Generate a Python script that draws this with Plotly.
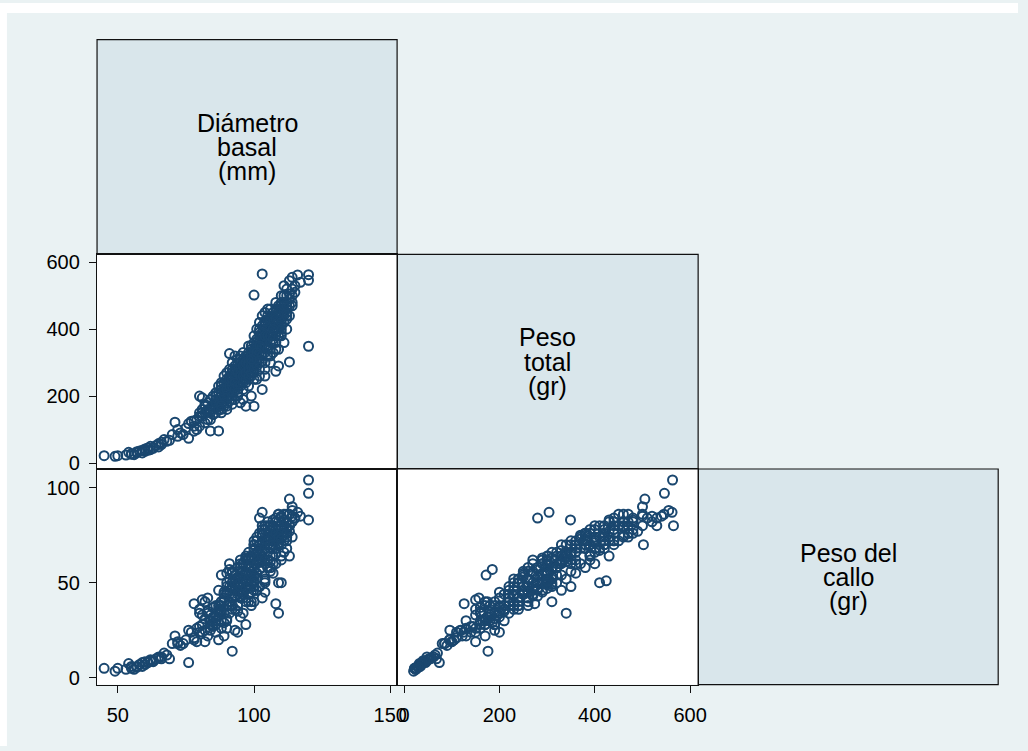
import plotly.graph_objects as go

diametro = [
    45, 49, 50, 54, 55, 56, 57, 58, 59, 60,
    61, 62, 62, 63, 64, 65, 65, 66, 67, 69,
    70, 71, 72, 72, 73, 75, 76, 76, 77, 78,
    79, 79, 80, 80, 81, 81, 82, 82, 83, 83,
    84, 84, 85, 85, 85, 86, 86, 87, 87, 87,
    88, 88, 88, 89, 89, 89, 90, 90, 90, 90,
    90, 91, 91, 91, 91, 91, 92, 92, 92, 92,
    92, 93, 93, 93, 93, 94, 94, 94, 94, 94,
    95, 95, 95, 95, 95, 95, 96, 96, 96, 96,
    96, 97, 97, 97, 97, 97, 98, 98, 98, 98,
    98, 99, 99, 99, 99, 99, 100, 100, 100, 100,
    100, 100, 100, 101, 101, 101, 101, 101, 102, 102,
    102, 102, 102, 103, 103, 103, 103, 103, 103, 104,
    104, 104, 104, 104, 105, 105, 105, 105, 105, 106,
    106, 106, 106, 107, 107, 107, 107, 108, 108, 108,
    108, 108, 109, 109, 109, 109, 109, 110, 110, 110,
    110, 110, 111, 111, 111, 111, 112, 112, 112, 112,
    113, 113, 113, 113, 114, 114, 114, 115, 116, 117,
    120, 120, 120,
    86, 87, 88, 89, 89, 90, 90, 91, 91, 92,
    92, 93, 93, 93, 94, 94, 94, 95, 95, 95,
    96, 96, 96, 97, 97, 97, 98, 98, 98, 99,
    99, 99, 100, 100, 100, 101, 101, 101, 102, 102,
    102, 103, 103, 103, 104, 104, 104, 105, 105, 105,
    106, 106, 106, 107, 107, 107, 108, 108, 108, 109,
    109, 109, 110, 110, 110, 111, 111, 112, 112, 113,
    113, 114, 114, 112, 111, 115,
    80, 81, 82, 83, 84, 85, 84, 86, 87, 88,
    82, 80, 78, 74, 68, 66, 63, 61, 60, 59,
    57, 55, 53,
    84, 85, 86, 86, 87, 88, 88, 89, 89, 90,
    90, 91, 91, 92, 92, 92, 93, 93, 93, 94,
    94, 95, 95, 95, 96, 96, 96, 97, 97, 97,
    98, 98, 98, 99, 99, 99, 100, 100, 100, 101,
    101, 101, 102, 102, 102, 103, 103, 103, 104, 104,
    104, 105, 105, 105, 106, 106, 107, 107, 108, 108,
    109, 109, 110, 110, 111, 111, 112, 112, 110, 108,
    106, 104, 102, 100, 98, 96, 94, 92, 90, 88,
    78, 81, 83, 88, 104, 106, 107, 102, 101, 99,
]

peso_total = [
    22, 20, 22, 32, 28, 25, 34, 36, 38, 42,
    45, 40, 50, 46, 52, 48, 58, 62, 70, 68,
    85, 122, 100, 80, 90, 105, 74, 118, 125, 110,
    130, 100, 200, 140, 195, 160, 150, 170, 130, 180,
    96, 160, 175, 145, 200, 190, 165, 96, 210, 180,
    150, 220, 200, 185, 240, 170, 230, 210, 190, 250,
    160, 327, 185, 260, 220, 200, 176, 240, 280, 210,
    300, 230, 260, 190, 270, 250, 280, 220, 300, 200,
    260, 290, 240, 320, 180, 270, 280, 250, 300, 190,
    330, 260, 290, 170, 310, 240, 300, 270, 330, 250,
    350, 310, 280, 200, 340, 260, 502, 320, 290, 170,
    360, 270, 380, 330, 300, 400, 250, 350, 280, 340,
    310, 380, 420, 565, 304, 220, 360, 440, 330, 300,
    370, 400, 260, 450, 350, 390, 420, 320, 460, 380,
    340, 430, 300, 400, 360, 450, 330, 420, 380, 274,
    480, 340, 340, 440, 400, 290, 470, 410, 460, 380,
    500, 430, 440, 480, 360, 420, 460, 500, 400, 430,
    505, 545, 302, 470, 555, 520, 480, 530, 562, 540,
    563, 546, 349,
    210, 230, 240, 210, 260, 270, 240, 280, 240, 260,
    230, 290, 250, 320, 260, 310, 240, 300, 280, 250,
    310, 270, 290, 320, 280, 300, 310, 290, 320, 330,
    300, 350, 340, 310, 300, 360, 320, 340, 360, 330,
    390, 380, 350, 410, 390, 350, 420, 400, 370, 440,
    410, 390, 460, 430, 380, 420, 440, 400, 460, 450,
    420, 380, 470, 440, 390, 460, 500, 480, 450, 490,
    440, 500, 470, 520, 530, 510,
    150, 140, 175, 160, 190, 160, 130, 150, 170, 180,
    120, 110, 95, 85, 65, 55, 44, 38, 35, 30,
    30, 26, 24,
    150, 170, 180, 200, 160, 190, 230, 200, 220, 180,
    220, 230, 250, 200, 250, 270, 220, 240, 280, 230,
    270, 230, 260, 310, 240, 260, 290, 250, 270, 300,
    260, 280, 300, 270, 290, 320, 280, 300, 330, 290,
    310, 370, 300, 350, 400, 320, 370, 390, 330, 380,
    410, 340, 380, 430, 360, 420, 370, 440, 390, 430,
    410, 460, 420, 480, 450, 470, 440, 470, 400, 360,
    320, 280, 260, 250, 230, 220, 210, 190, 170, 160,
    126, 150, 157, 172, 424, 380, 400, 350, 330, 310,
]

peso_callo = [
    5, 3.5, 5, 7.5, 6, 4.5, 6, 7, 8, 8.5,
    8, 9, 9.5, 8.5, 10, 11, 10.5, 11, 13, 10,
    18, 22, 19, 18, 17, 20, 8, 25, 24, 21,
    26, 19, 34, 27, 33, 28, 19, 31, 22, 35,
    25, 30, 32, 27, 37, 28, 30, 20, 36, 33,
    26, 40, 35, 29, 42, 22, 44, 38, 31, 45,
    26, 60, 57, 48, 40, 34, 14, 50, 47, 36,
    55, 43, 52, 25, 46, 48, 53, 38, 50, 24,
    45, 55, 42, 58, 32, 62, 50, 44, 56, 34,
    60, 48, 52, 28, 63, 40, 55, 47, 62, 44,
    66, 58, 50, 38, 64, 45, 70, 60, 54, 40,
    68, 48, 72, 62, 55, 74, 46, 65, 84, 63,
    57, 70, 76, 80, 87, 42, 66, 78, 61, 52,
    68, 72, 45, 80, 62, 70, 74, 58, 82, 68,
    61, 77, 56, 72, 55, 80, 64, 75, 68, 39,
    84, 65, 34, 78, 71, 50, 82, 50, 80, 70,
    85, 64, 76, 83, 66, 72, 79, 86, 68, 74,
    94, 86, 64, 80, 88, 85, 82, 84, 87, 85,
    104, 97, 83,
    30, 46, 38, 44, 40, 55, 50, 46, 52, 38,
    48, 46, 54, 50, 58, 49, 38, 60, 43, 53,
    50, 60, 45, 64, 47, 62, 52, 63, 58, 54,
    64, 56, 70, 53, 50, 72, 66, 52, 62, 70,
    65, 76, 72, 67, 78, 60, 70, 80, 73, 72,
    80, 64, 74, 83, 75, 68, 72, 78, 82, 86,
    70, 73, 76, 84, 62, 75, 80, 78, 72, 77,
    80, 90, 74, 82, 80, 84,
    36, 24, 40, 34, 28, 37, 30, 24, 38, 30,
    25, 24, 20, 18, 12, 10, 9, 8, 7, 6,
    5.5, 5, 4.5,
    33, 28, 38, 32, 35, 40, 36, 45, 34, 38,
    48, 38, 44, 42, 56, 43, 46, 36, 50, 52,
    44, 50, 56, 48, 52, 42, 60, 55, 50, 47,
    52, 58, 49, 56, 62, 54, 57, 51, 67, 60,
    66, 60, 61, 70, 66, 58, 75, 64, 62, 70,
    68, 66, 76, 72, 70, 80, 74, 70, 76, 82,
    74, 86, 78, 76, 80, 86, 82, 76, 73, 60,
    58, 50, 48, 46, 40, 44, 35, 38, 30, 34,
    39, 41, 42, 54, 51, 58, 60, 48, 46, 40,
]

var_labels = [["Diámetro", "basal", "(mm)"],
              ["Peso", "total", "(gr)"],
              ["Peso del", "callo", "(gr)"]]

ticks_diam = [50, 100, 150]
ticks_total = [0, 200, 400, 600]
ticks_callo = [0, 50, 100]

# ---- layout geometry (pixels) ----
W, H = 1028, 751
cols = [98, 401, 705, 1008]
rows = [37, 254, 471, 689]


def px(x):
    return x / W


def py(y):
    return 1 - y / H


NAVY = "#1A476F"
BG = "#EAF2F3"
FONT = "Liberation Sans, Arial, Helvetica, sans-serif"
marker = dict(symbol="circle-open", size=9, color=NAVY,
              line=dict(width=2, color=NAVY))

fig = go.Figure()
fig.add_trace(go.Scatter(x=diametro, y=peso_total, mode="markers",
                         marker=marker, xaxis="x", yaxis="y"))
fig.add_trace(go.Scatter(x=diametro, y=peso_callo, mode="markers",
                         marker=marker, xaxis="x2", yaxis="y2"))
fig.add_trace(go.Scatter(x=peso_total, y=peso_callo, mode="markers",
                         marker=marker, xaxis="x3", yaxis="y3"))

base = dict(showgrid=False, zeroline=False, showline=True, linecolor="#111111",
            linewidth=1.2, mirror=True, ticks="outside", ticklen=7,
            tickwidth=1, tickcolor="#111111",
            tickfont=dict(family=FONT, size=20, color="black"))

rng_diam = [42.4, 152.5]
rng_total_x = [-14.6, 616.7]
rng_total_y = [-17.8, 623.8]
rng_callo = [-3.6, 109.8]

fig.update_layout(
    xaxis=dict(base, domain=[px(cols[0]), px(cols[1])], anchor="y",
               range=rng_diam, showticklabels=False, ticks=""),
    yaxis=dict(base, domain=[py(rows[2]), py(rows[1])], anchor="x",
               range=rng_total_y, tickvals=ticks_total, ticklabelstandoff=5),
    xaxis2=dict(base, domain=[px(cols[0]), px(cols[1])], anchor="y2",
                range=rng_diam, tickvals=ticks_diam, ticklabelstandoff=5),
    yaxis2=dict(base, domain=[py(rows[3]), py(rows[2])], anchor="x2",
                range=rng_callo, tickvals=ticks_callo, ticklabelstandoff=5),
    xaxis3=dict(base, domain=[px(cols[1]), px(cols[2])], anchor="y3",
                range=rng_total_x, tickvals=ticks_total, ticklabelstandoff=5),
    yaxis3=dict(base, domain=[py(rows[3]), py(rows[2])], anchor="x3",
                range=rng_callo, showticklabels=False, ticks=""),
)

# white page margin (top and left strips) around the light graph region
shapes = [
    dict(type="rect", xref="paper", yref="paper", layer="below",
         x0=0, x1=1, y0=py(10), y1=1, fillcolor="white", line=dict(width=0)),
    dict(type="rect", xref="paper", yref="paper", layer="below",
         x0=0, x1=px(7), y0=0, y1=1, fillcolor="white", line=dict(width=0)),
]
annotations = []
for i in range(3):
    x0, x1 = cols[i], cols[i + 1]
    y0, y1 = rows[i], rows[i + 1]
    shapes.append(dict(type="rect", xref="paper", yref="paper", layer="below",
                       x0=px(x0), x1=px(x1), y0=py(y1), y1=py(y0),
                       fillcolor="#D9E6EB", line=dict(color="#111111", width=1.2)))
    cx = (x0 + x1) / 2
    cy = (y0 + y1) / 2
    for k, line in enumerate(var_labels[i]):
        annotations.append(dict(xref="paper", yref="paper", x=px(cx),
                                y=py(cy + (k - 1) * 24.5), text=line,
                                showarrow=False, xanchor="center",
                                yanchor="middle",
                                font=dict(family=FONT, size=25, color="black")))

fig.update_layout(width=W, height=H, margin=dict(l=0, r=0, t=0, b=0),
                  paper_bgcolor=BG, plot_bgcolor="white", hovermode=False,
                  showlegend=False, shapes=shapes, annotations=annotations)

fig.write_html("out.html",
               config={"displayModeBar": False, "staticPlot": True},
               post_script="document.body.style.margin='0';"
                           "document.body.style.overflow='hidden';")
